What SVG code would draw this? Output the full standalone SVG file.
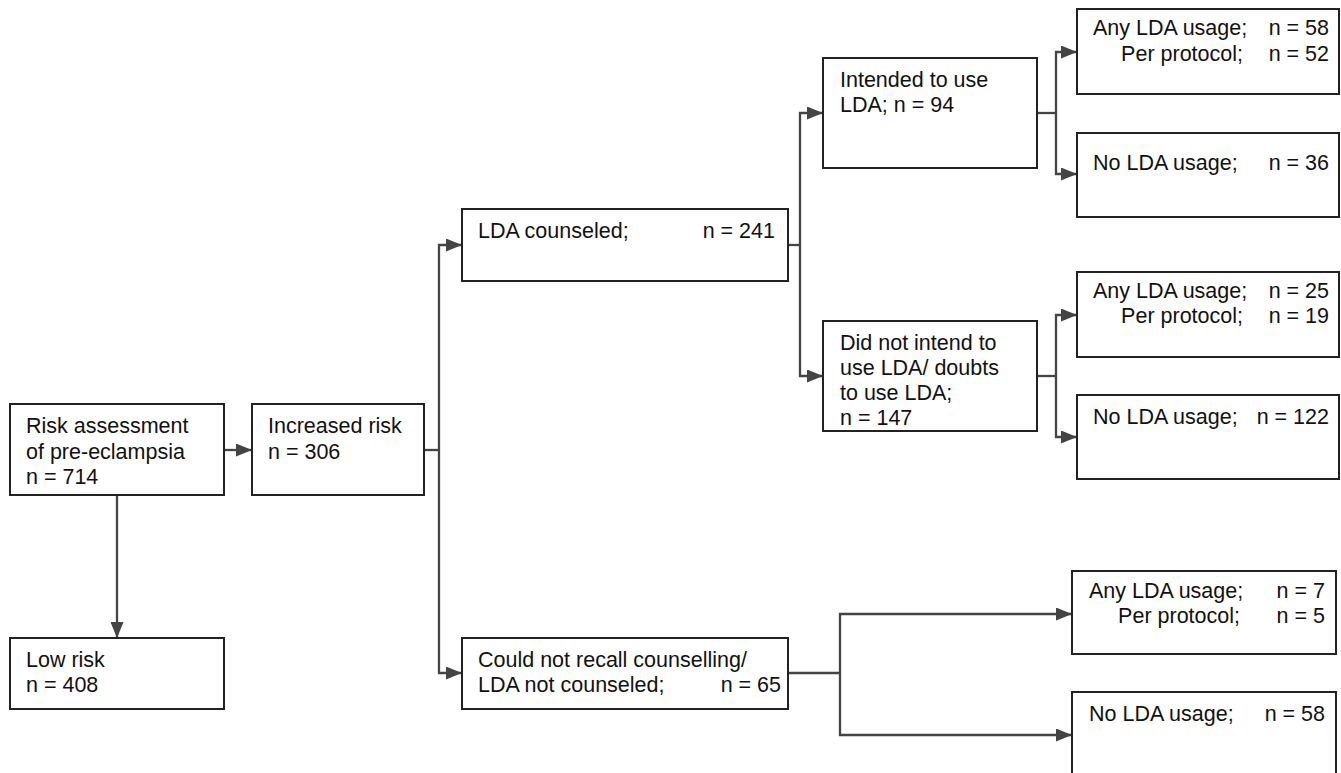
<svg xmlns="http://www.w3.org/2000/svg" width="1341" height="773" viewBox="0 0 1341 773">
<defs>
<style>
.box{fill:#fff;stroke:#222;stroke-width:2}
.t{font-family:"Liberation Sans",Arial,sans-serif;font-size:21.5px;fill:#111}
.e{text-anchor:end}
.c{fill:none;stroke:#444;stroke-width:2.3}
</style>
<marker id="ah" viewBox="0 0 16 13" refX="16" refY="6.5" markerWidth="16" markerHeight="13" markerUnits="userSpaceOnUse" orient="auto">
<path d="M0,0 L16,6.5 L0,13 Z" fill="#444"/>
</marker>
</defs>
<rect width="1341" height="773" fill="#fff"/>

<g id="connectors">
<path class="c" d="M224,450 H252" marker-end="url(#ah)"/>
<path class="c" d="M117,495 V638" marker-end="url(#ah)"/>
<path class="c" d="M424,450 H439"/>
<path class="c" d="M439,450 V245 H462" marker-end="url(#ah)"/>
<path class="c" d="M439,450 V673 H462" marker-end="url(#ah)"/>
<path class="c" d="M788,245 H800"/>
<path class="c" d="M800,245 V113 H823" marker-end="url(#ah)"/>
<path class="c" d="M800,245 V376 H823" marker-end="url(#ah)"/>
<path class="c" d="M1037,113 H1056"/>
<path class="c" d="M1056,113 V52 H1077" marker-end="url(#ah)"/>
<path class="c" d="M1056,113 V174 H1077" marker-end="url(#ah)"/>
<path class="c" d="M1037,376 H1056"/>
<path class="c" d="M1056,376 V315 H1077" marker-end="url(#ah)"/>
<path class="c" d="M1056,376 V437 H1077" marker-end="url(#ah)"/>
<path class="c" d="M788,673 H840"/>
<path class="c" d="M840,673 V614 H1072" marker-end="url(#ah)"/>
<path class="c" d="M840,673 V735 H1072" marker-end="url(#ah)"/>
</g>

<g id="risk">
<rect class="box" x="10" y="404" width="214" height="91"/>
<text class="t" x="26" y="433">Risk assessment</text>
<text class="t" x="26" y="459">of pre-eclampsia</text>
<text class="t" x="26" y="484">n = 714</text>
</g>

<g id="increased">
<rect class="box" x="252" y="404" width="172" height="91"/>
<text class="t" x="268" y="433">Increased risk</text>
<text class="t" x="268" y="459">n = 306</text>
</g>

<g id="low">
<rect class="box" x="10" y="638" width="214" height="71"/>
<text class="t" x="26" y="667">Low risk</text>
<text class="t" x="26" y="692">n = 408</text>
</g>

<g id="counseled">
<rect class="box" x="462" y="209" width="326" height="72"/>
<text class="t" x="478" y="238">LDA counseled;</text>
<text class="t e" x="775" y="238">n = 241</text>
</g>

<g id="notcounseled">
<rect class="box" x="462" y="638" width="326" height="71"/>
<text class="t" x="478" y="667">Could not recall counselling/</text>
<text class="t" x="478" y="692">LDA not counseled;</text>
<text class="t e" x="781" y="692">n = 65</text>
</g>

<g id="intended">
<rect class="box" x="823" y="58" width="214" height="110"/>
<text class="t" x="840" y="87">Intended to use</text>
<text class="t" x="840" y="112">LDA; n = 94</text>
</g>

<g id="notintended">
<rect class="box" x="823" y="321" width="214" height="110"/>
<text class="t" x="840" y="350">Did not intend to</text>
<text class="t" x="840" y="375">use LDA/ doubts</text>
<text class="t" x="840" y="400">to use LDA;</text>
<text class="t" x="840" y="425">n = 147</text>
</g>

<g id="any58">
<rect class="box" x="1077" y="9" width="262" height="85"/>
<text class="t" x="1093" y="35">Any LDA usage;</text>
<text class="t e" x="1329" y="35">n = 58</text>
<text class="t e" x="1243" y="61">Per protocol;</text>
<text class="t e" x="1329" y="61">n = 52</text>
</g>

<g id="no36">
<rect class="box" x="1077" y="133" width="262" height="84"/>
<text class="t" x="1093" y="170">No LDA usage;</text>
<text class="t e" x="1329" y="170">n = 36</text>
</g>

<g id="any25">
<rect class="box" x="1077" y="272" width="262" height="85"/>
<text class="t" x="1093" y="298">Any LDA usage;</text>
<text class="t e" x="1329" y="298">n = 25</text>
<text class="t e" x="1243" y="323">Per protocol;</text>
<text class="t e" x="1329" y="323">n = 19</text>
</g>

<g id="no122">
<rect class="box" x="1077" y="395" width="262" height="84"/>
<text class="t" x="1093" y="424">No LDA usage;</text>
<text class="t e" x="1329" y="424">n = 122</text>
</g>

<g id="any7">
<rect class="box" x="1072" y="571" width="264" height="83"/>
<text class="t" x="1089" y="598">Any LDA usage;</text>
<text class="t e" x="1325" y="598">n = 7</text>
<text class="t e" x="1240" y="623">Per protocol;</text>
<text class="t e" x="1325" y="623">n = 5</text>
</g>

<g id="no58">
<rect class="box" x="1072" y="692" width="264" height="90"/>
<text class="t" x="1089" y="721">No LDA usage;</text>
<text class="t e" x="1325" y="721">n = 58</text>
</g>
</svg>
